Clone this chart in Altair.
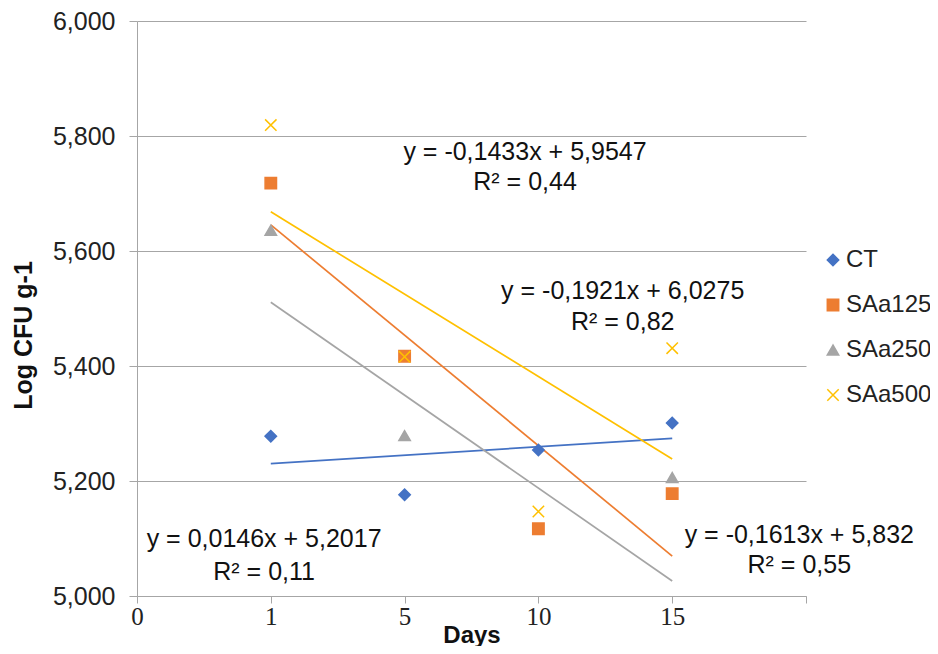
import altair as alt
import pandas as pd

# ---- data ----
days = ["1", "5", "10", "15"]
day_index = [1, 2, 3, 4]
series_names = ["CT", "SAa125", "SAa250", "SAa500"]
ct = [5.278, 5.176, 5.254, 5.301]
saa125 = [5.718, 5.417, 5.117, 5.178]
saa250 = [5.636, 5.279, 4.953, 5.206]   # day 10 point lies below the axis (clipped)
saa500 = [5.819, 5.416, 5.147, 5.431]
x_tick_labels = ["0", "1", "5", "10", "15", ""]
y_ticks = [5.0, 5.2, 5.4, 5.6, 5.8, 6.0]

eq_lines = [
    "y = -0,1433x + 5,9547", "R² = 0,44",
    "y = -0,1921x + 6,0275", "R² = 0,82",
    "y = 0,0146x + 5,2017", "R² = 0,11",
    "y = -0,1613x + 5,832", "R² = 0,55",
]
eq_x = [2.90, 2.90, 3.63, 3.63, 0.95, 0.95, 4.95, 4.95]
eq_y = [5.772, 5.720, 5.530, 5.477, 5.099, 5.042, 5.106, 5.054]

# ---- styles ----
colors = ["#4472C4", "#ED7D31", "#A5A5A5", "#FFC000"]
shapes = ["diamond", "square", "triangle-up", "M-1,-1L1,1M-1,1L1,-1"]
axis_gray = "#A6A6A6"
font = "Liberation Sans"

values = {"CT": ct, "SAa125": saa125, "SAa250": saa250, "SAa500": saa500}
rows = []
for s in series_names:
    for d, i, v in zip(days, day_index, values[s]):
        rows.append({"series": s, "day": d, "idx": i, "value": v})
df = pd.DataFrame(rows)
ann = pd.DataFrame({"text": eq_lines, "idx": eq_x, "value": eq_y})

xscale = alt.Scale(domain=[0, 5], nice=False, zero=False)
yscale = alt.Scale(domain=[5, 6], nice=False, zero=False)

x_axis = alt.Axis(
    values=list(range(6)),
    labelExpr="[" + ",".join("'%s'" % t for t in x_tick_labels) + "][datum.value]",
    grid=False, labelFont="Liberation Serif", labelFontSize=25, labelColor="#222222",
    labelFlush=False, labelOverlap=False,
    tickSize=7, tickColor=axis_gray, domainColor=axis_gray, labelPadding=1,
    title="Days", titleFont=font, titleFontSize=24, titleFontWeight="bold",
    titleColor="#111111", titleY=39, titleBaseline="middle",
)
y_axis = alt.Axis(
    values=y_ticks,
    labelExpr="replace(format(datum.value, '.3f'), '.', ',')",
    grid=True, gridColor=axis_gray, gridWidth=1,
    labelFont=font, labelFontSize=25, labelColor="#222222", labelPadding=14,
    tickSize=8, tickColor=axis_gray, domainColor=axis_gray,
    title="Log CFU g-1", titleFont=font, titleFontSize=25, titleFontWeight="bold",
    titleColor="#111111", titleX=-114, titleY=314, titleAngle=270,
    titleAlign="center", titleBaseline="middle",
)

x_enc = alt.X("idx:Q", scale=xscale, axis=x_axis, title="Days")
y_enc = alt.Y("value:Q", scale=yscale, axis=y_axis, title="Log CFU g-1")

legend = alt.Legend(
    title=None, orient="none", legendX=684, legendY=227,
    labelFont=font, labelFontSize=24, labelColor="#222222", labelLimit=200,
    symbolSize=130, symbolStrokeWidth=1.5, rowPadding=21, labelOffset=1, padding=0,
)

lines = [
    alt.Chart(df).transform_filter(alt.datum.series == s)
    .transform_regression("idx", "value")
    .mark_line(color=c, strokeWidth=1.7, clip=True)
    .encode(x=x_enc, y=y_enc)
    for s, c in zip(series_names, colors)
]

points = alt.Chart(df).mark_point(filled=True, size=130, strokeWidth=1.5, opacity=1, clip=True).encode(
    x=x_enc,
    y=y_enc,
    color=alt.Color("series:N", scale=alt.Scale(domain=series_names, range=colors), legend=legend),
    stroke=alt.Stroke("series:N", scale=alt.Scale(domain=series_names, range=colors), legend=legend),
    shape=alt.Shape("series:N", scale=alt.Scale(domain=series_names, range=shapes), legend=legend),
)

texts = alt.Chart(ann).mark_text(font=font, fontSize=25, color="#111111", align="center", baseline="middle").encode(
    x=x_enc, y=y_enc, text="text:N"
)

chart = alt.layer(*lines, points, texts).properties(
    width=669, height=575,
    autosize=alt.AutoSizeParams(type="none"),
    padding={"left": 129, "top": 13, "right": 124, "bottom": 50},
    background="white",
).configure_view(strokeWidth=0)

chart.save("out.html", embed_options={"renderer": "svg", "actions": False})
